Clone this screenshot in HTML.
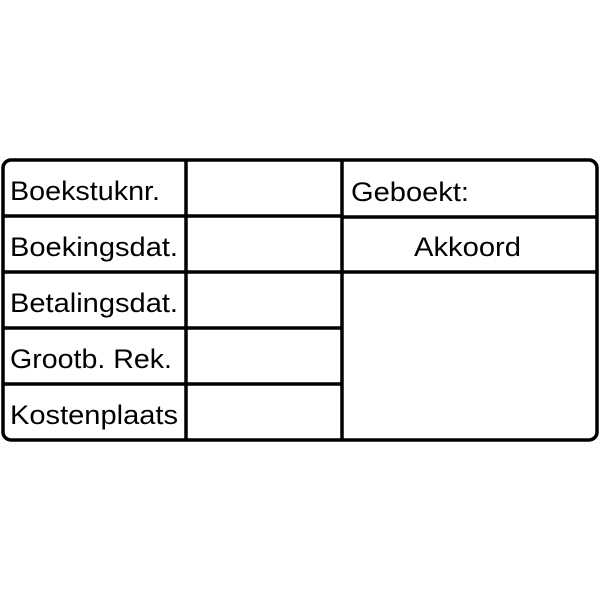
<!DOCTYPE html>
<html><head><meta charset="utf-8"><style>html,body{margin:0;padding:0;background:#fff}</style></head>
<body>
<svg width="600" height="600" xmlns="http://www.w3.org/2000/svg">
<rect x="0" y="0" width="600" height="600" fill="#fff"/>
<g stroke="#000" stroke-width="3.5" fill="none">
<rect x="3" y="160" width="594" height="280" rx="8"/>
<line x1="186" y1="160" x2="186" y2="440"/>
<line x1="342" y1="160" x2="342" y2="440"/>
<line x1="3" y1="216" x2="342" y2="216"/>
<line x1="3" y1="272" x2="342" y2="272"/>
<line x1="3" y1="328" x2="342" y2="328"/>
<line x1="3" y1="384" x2="342" y2="384"/>
<line x1="342" y1="217" x2="597" y2="217"/>
<line x1="342" y1="272" x2="597" y2="272"/>
</g>
<g font-family="Liberation Sans, sans-serif" font-size="27" fill="#000">
<text x="10" y="200" textLength="150" lengthAdjust="spacingAndGlyphs">Boekstuknr.</text>
<text x="10" y="256" textLength="168" lengthAdjust="spacingAndGlyphs">Boekingsdat.</text>
<text x="10" y="312" textLength="168" lengthAdjust="spacingAndGlyphs">Betalingsdat.</text>
<text x="10" y="368" textLength="162" lengthAdjust="spacingAndGlyphs">Grootb. Rek.</text>
<text x="10" y="424" textLength="168" lengthAdjust="spacingAndGlyphs">Kostenplaats</text>
<text x="351" y="201" textLength="118" lengthAdjust="spacingAndGlyphs">Geboekt:</text>
<text x="414" y="256" textLength="107" lengthAdjust="spacingAndGlyphs">Akkoord</text>
</g>
</svg>
</body></html>
